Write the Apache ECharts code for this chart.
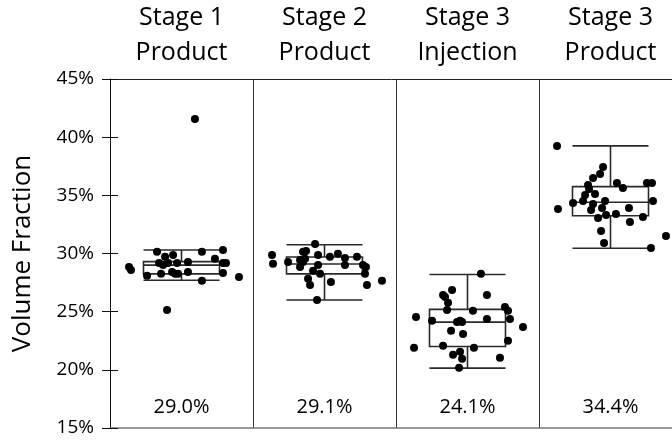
<!DOCTYPE html>
<html>
<head>
<meta charset="utf-8">
<script src="https://cdn.jsdelivr.net/npm/echarts@6/dist/echarts.min.js"></script>
<style>
html,body{margin:0;padding:0;background:#fff;}
#chart{width:672px;height:442px;}
</style>
</head>
<body>
<div id="chart"></div>
<script>
// ---- data ----
const categories = ['Stage 1\nProduct', 'Stage 2\nProduct', 'Stage 3\nInjection', 'Stage 3\nProduct'];
const yTickValues = [15, 20, 25, 30, 35, 40, 45];
// [lower whisker, Q1, median, Q3, upper whisker] in %
const boxStage1Product = [27.7, 28.25, 29.0, 29.3, 30.3];
const boxStage2Product = [26.0, 28.25, 29.1, 29.7, 30.75];
const boxStage3Injection = [20.15, 22.0, 24.1, 25.2, 28.2];
const boxStage3Product = [30.45, 33.25, 34.4, 35.75, 39.25];
const medianLabels = ['29.0%', '29.1%', '24.1%', '34.4%'];
// points: [jitter offset within the category (fraction of category width), value %]
const ptsStage1Product = [
  [-0.367, 28.85], [-0.353, 28.59], [-0.171, 30.14], [-0.115, 29.71], [-0.059, 29.88],
  [0.143, 30.14], [0.290, 30.31], [-0.157, 29.19], [-0.129, 29.02], [-0.094, 29.19],
  [-0.031, 29.19], [0.045, 29.28], [0.234, 29.54], [0.290, 29.19], [0.311, 29.19],
  [-0.241, 28.08], [-0.143, 28.25], [-0.066, 28.42], [-0.045, 28.25], [-0.024, 28.25],
  [0.045, 28.42], [0.290, 28.33], [0.143, 27.65], [0.402, 27.99], [-0.101, 25.15],
  [0.094, 41.56]
];
const ptsStage2Product = [
  [-0.066, 30.82], [-0.367, 29.88], [-0.360, 29.11], [-0.150, 30.14], [-0.129, 30.22],
  [-0.255, 29.28], [-0.171, 29.45], [-0.150, 29.28], [-0.136, 29.54], [-0.171, 28.85],
  [-0.045, 29.88], [-0.045, 29.02], [0.038, 29.71], [0.094, 29.97], [0.143, 29.62],
  [0.143, 29.02], [0.227, 29.71], [0.269, 29.02], [0.290, 28.85], [-0.080, 28.51],
  [-0.031, 28.25], [-0.115, 27.82], [-0.101, 27.30], [0.045, 27.56], [0.283, 28.25],
  [0.297, 27.30], [0.402, 27.65], [-0.052, 26.01]
];
const ptsStage3Injection = [
  [0.094, 28.25], [-0.171, 26.44], [-0.157, 26.27], [-0.108, 26.87], [-0.136, 25.76],
  [0.136, 26.44], [-0.143, 25.15], [0.038, 25.07], [0.262, 25.41], [0.283, 25.07],
  [-0.360, 24.55], [-0.248, 24.21], [-0.073, 24.12], [-0.052, 24.21], [-0.038, 24.12],
  [0.136, 24.38], [0.297, 24.38], [0.388, 23.69], [-0.115, 23.35], [-0.031, 23.09],
  [0.283, 22.49], [-0.374, 21.89], [-0.171, 22.06], [0.045, 21.89], [-0.052, 21.55],
  [-0.101, 21.29], [-0.038, 20.95], [0.227, 21.03], [-0.059, 20.17]
];
const ptsStage3Product = [
  [-0.374, 39.24], [-0.052, 37.44], [-0.073, 36.84], [-0.122, 36.49], [-0.157, 35.89],
  [-0.150, 35.55], [0.045, 36.07], [0.087, 35.64], [0.255, 36.07], [0.290, 36.07],
  [-0.108, 35.12], [-0.178, 35.03], [-0.262, 34.35], [-0.192, 34.52], [-0.122, 34.26],
  [-0.038, 34.52], [0.297, 34.52], [-0.367, 33.83], [-0.136, 33.75], [-0.059, 33.92],
  [0.129, 33.92], [-0.087, 33.06], [-0.031, 33.32], [0.038, 33.40], [0.227, 33.14],
  [0.136, 32.71], [-0.066, 31.94], [-0.045, 30.91], [0.283, 30.48], [0.388, 31.51]
];

// ---- build series ----
const boxData = [boxStage1Product, boxStage2Product, boxStage3Injection, boxStage3Product];
const groups = [ptsStage1Product, ptsStage2Product, ptsStage3Injection, ptsStage3Product];
const scatterData = [];
groups.forEach((g, i) => g.forEach(p => scatterData.push([i + 0.5 + p[0], p[1]])));
const LABEL_Y = 16.8;
const labelData = medianLabels.map((t, i) => [i + 0.5, LABEL_Y]);

const FONT = 'Open Sans';
const TXT = '#000';
const chart = echarts.init(document.getElementById('chart'), null, {renderer: 'canvas'});
chart.setOption({
  animation: false,
  backgroundColor: '#fff',
  textStyle: {fontFamily: FONT},
  grid: {left: 110, top: 79, width: 572, height: 349, containLabel: false, outerBoundsMode: 'none'},
  xAxis: [
    {
      type: 'category', data: categories, position: 'top',
      axisLine: {show: true, lineStyle: {color: '#222', width: 1}},
      axisTick: {show: false},
      axisLabel: {interval: 0, fontSize: 25, lineHeight: 35, color: TXT, margin: 9, fontFamily: FONT},
      splitLine: {show: false}
    },
    {
      type: 'value', min: 0, max: 4, interval: 1, position: 'bottom',
      axisLine: {show: true, onZero: false, lineStyle: {color: '#777', width: 1.5}},
      axisTick: {show: false}, axisLabel: {show: false},
      splitLine: {show: true, lineStyle: {color: '#333', width: 1}}
    }
  ],
  yAxis: [
    {
      type: 'value', min: yTickValues[0], max: yTickValues[yTickValues.length - 1], interval: 5,
      axisLine: {show: true, lineStyle: {color: '#111', width: 1}},
      axisTick: {show: true, inside: false, length: 8, lineStyle: {color: '#111'}},
      axisLabel: {formatter: '{value}%', fontSize: 19, color: TXT, margin: 16, fontFamily: FONT},
      splitLine: {show: false},
      name: 'Volume Fraction', nameLocation: 'middle', nameRotate: 90, nameGap: 74,
      nameTextStyle: {fontSize: 26, color: TXT, fontFamily: FONT}
    },
    {
      type: 'value', min: yTickValues[0], max: yTickValues[yTickValues.length - 1], interval: 5,
      position: 'left', offset: 0,
      axisLine: {show: false},
      axisTick: {show: true, inside: true, length: 8, lineStyle: {color: '#111'}},
      axisLabel: {show: false}, splitLine: {show: false}
    }
  ],
  series: [
    {
      type: 'boxplot', xAxisIndex: 0, yAxisIndex: 0, data: boxData,
      boxWidth: [76, 76],
      itemStyle: {color: 'rgba(255,255,255,0)', borderColor: '#2a2a2a', borderWidth: 1.6},
      z: 2
    },
    {
      type: 'scatter', xAxisIndex: 1, yAxisIndex: 0, data: scatterData,
      symbol: 'circle', symbolSize: 8, itemStyle: {color: '#000', opacity: 1}, z: 3
    },
    {
      type: 'scatter', xAxisIndex: 1, yAxisIndex: 0, data: labelData,
      symbolSize: 0, silent: true, itemStyle: {opacity: 1, color: '#000'},
      label: {show: true, position: 'inside', fontSize: 20, color: TXT, opacity: 1, fontFamily: FONT,
        formatter: p => medianLabels[p.dataIndex]},
      z: 4
    }
  ]
});
</script>
</body>
</html>
